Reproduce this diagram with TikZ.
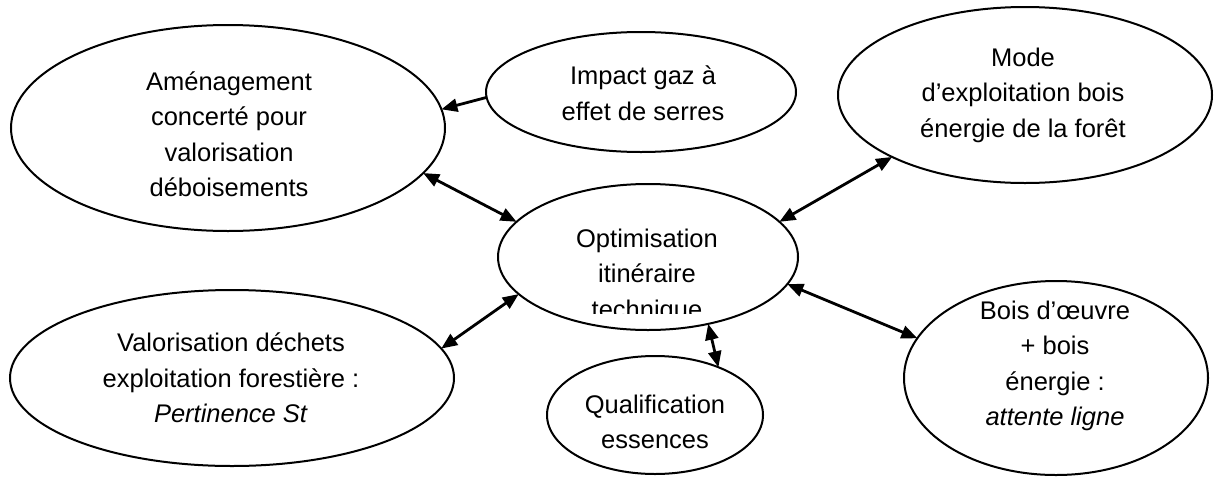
\documentclass[tikz,border=0pt]{standalone}
\usepackage{fontspec}
\setmainfont{Liberation Sans}
\usetikzlibrary{shapes.geometric,arrows.meta}
\begin{document}
\begin{tikzpicture}[x=1pt,y=-1pt,
  bubble/.style={ellipse,draw,line width=2pt,inner sep=0pt,outer sep=0pt},
  lbl/.style={align=center,font=\fontsize{25.5}{35.5}\selectfont,inner sep=0pt},
  tip/.tip={Triangle[length=16pt,width=13pt]},
  link/.style={line width=2.8pt,tip-tip},
  oneway/.style={line width=2.8pt,-tip}]
\useasboundingbox (0,0) rectangle (1214,477);
% ellipses
\node[bubble,minimum width=434pt,minimum height=206pt] (amen) at (228,128) {};
\node[bubble,minimum width=310pt,minimum height=120pt] (gaz) at (641,92) {};
\node[bubble,minimum width=374pt,minimum height=176pt] (mode) at (1025,95) {};
\node[bubble,minimum width=300pt,minimum height=146pt] (opti) at (648,257) {};
\node[bubble,minimum width=444pt,minimum height=176pt] (valo) at (232,378) {};
\node[bubble,minimum width=216pt,minimum height=118pt] (qual) at (655,415) {};
\node[bubble,minimum width=304pt,minimum height=194pt] (bois) at (1056,378) {};
% texts
\node[lbl] (tamen) at (229,134) {Aménagement\\concerté pour\\valorisation\\déboisements};
\node[lbl] (tgaz) at (643,93) {Impact gaz à\\effet de serres};
\node[lbl] (tmode) at (1023,95) {Mode\\d’exploitation bois\\énergie de la forêt};
\begin{scope}
\clip (490,180) rectangle (810,313);
\node[lbl] (topti) at (647,276) {Optimisation\\itinéraire\\technique};
\end{scope}
\node[lbl] (tvalo) at (231,378) {Valorisation déchets\\exploitation forestière :\\\textit{Pertinence St}};
\node[lbl] (tqual) at (655,422) {Qualification\\essences};
\node[lbl] (tbois) at (1055,366) {Bois d’œuvre\\+ bois\\énergie :\\\textit{attente ligne}};
% connectors
\draw[oneway] (gaz.182) -- (amen.5);
\draw[link] (amen.-13) -- (opti.165);
\draw[link] (mode.205) -- (opti.15);
\draw[link] (opti.-11) -- (bois.164);
\draw[link] (opti.196) -- (valo.8);
\draw[link] (opti.-48) -- (qual.37);
\end{tikzpicture}
\end{document}
